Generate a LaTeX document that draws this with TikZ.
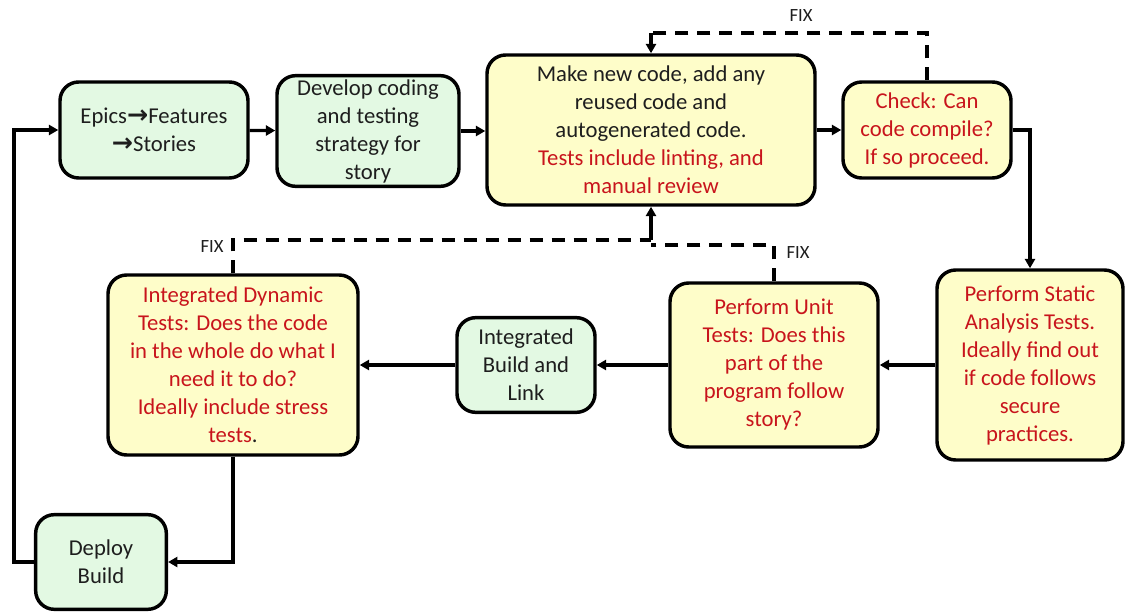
\documentclass[tikz,border=0pt]{standalone}
\usepackage{fontspec}
\setmainfont{Carlito}
\newfontfamily\arrowfont{DejaVu Sans}
\usetikzlibrary{arrows.meta}
\definecolor{boxgreen}{HTML}{E3F9E3}
\definecolor{boxyellow}{HTML}{FEFDC9}
\definecolor{alertred}{HTML}{C8141C}
\definecolor{inkgray}{HTML}{1E1E1E}
\newcommand{\rt}[1]{\textcolor{alertred}{#1}}
\newcommand{\ra}{{\arrowfont\bfseries\fontsize{19}{15}\selectfont →}}
\begin{document}
\begin{tikzpicture}[x=0.75pt,y=-0.75pt,
  box/.style={draw=black, line width=2.6pt, rounded corners=14pt, align=center,
    inner sep=0pt, font=\fontsize{17}{21}\selectfont, text=inkgray},
  gbox/.style={box, fill=boxgreen},
  ybox/.style={box, fill=boxyellow},
  flow/.style={line width=2.5pt, -{Triangle[length=7pt,width=7.5pt]}},
  fix/.style={line width=2.5pt, dash pattern=on 10pt off 6.5pt},
  fixlabel/.style={font=\fontsize{14}{15}\selectfont, text=inkgray, inner sep=0pt}]
\useasboundingbox (0,0) rectangle (1125,613);

% process boxes
\node[gbox, minimum width=141pt, minimum height=72pt] (epics) at (154,130)
  {Epics\ra Features\\\ra Stories};
\node[gbox, minimum width=136.5pt, minimum height=83pt] (dev) at (368,131)
  {Develop coding\\and testing\\strategy for\\story};
\node[ybox, minimum width=246pt, minimum height=112.5pt] (make) at (651,130)
  {Make new code, add any\\reused code and\\autogenerated code.\\\rt{Tests include linting, and}\\\rt{manual review}};
\node[ybox, minimum width=126pt, minimum height=72pt] (chk) at (927,130)
  {\rt{Check: Can}\\\rt{code compile?}\\\rt{If so proceed.}};
\node[ybox, minimum width=139.5pt, minimum height=142.5pt] (static) at (1030,365)
  {\rt{Perform Static}\\\rt{Analysis Tests.}\\\rt{Ideally find out}\\\rt{if code follows}\\\rt{secure}\\\rt{practices.}};
\node[ybox, minimum width=156pt, minimum height=123pt] (unit) at (774,365)
  {\rt{Perform Unit}\\\rt{Tests: Does this}\\\rt{part of the}\\\rt{program follow}\\\rt{story?}};
\node[gbox, minimum width=103.5pt, minimum height=71pt] (build) at (526,365)
  {Integrated\\Build and\\Link};
\node[ybox, minimum width=187.5pt, minimum height=135pt] (dyn) at (233,365)
  {\rt{Integrated Dynamic}\\\rt{Tests: Does the code}\\\rt{in the whole do what I}\\\rt{need it to do?}\\\rt{Ideally include stress}\\\rt{tests}.};
\node[gbox, minimum width=98pt, minimum height=71pt] (deploy) at (101,562)
  {Deploy\\Build};

% main flow
\draw[flow] (epics) -- (dev);
\draw[flow] (dev) -- (make.west |- dev);
\draw[flow] (make) -- (chk);
\draw[flow] (chk.east) -| (static.north);
\draw[flow] (static) -- (unit);
\draw[flow] (unit) -- (build);
\draw[flow] (build) -- (dyn);
\draw[flow] (dyn.south) |- (deploy.east);
\coordinate (loopL) at (14,562);
\draw[flow] (deploy.west) -- (loopL) |- (epics.west);

% fix loops
\coordinate (t1) at (927,33);
\coordinate (t2) at (651,33);
\draw[fix] (chk.north) -- (t1) -- (t2);
\draw[flow] (t2) -- (make.north);
\coordinate (b1) at (233,240);
\coordinate (b2) at (651,240);
\draw[fix] (dyn.north) -- (b1) -- (b2);
\draw[flow] (b2) -- (make.south);
\coordinate (b3) at (774,245);
\coordinate (b4) at (651,245);
\draw[fix] (unit.north) -- (b3) -- (b4);

% labels
\node[fixlabel] (fixtop) at (801,16) {FIX};
\node[fixlabel] (fixleft) at (212,247) {FIX};
\node[fixlabel] (fixright) at (798,253) {FIX};
\end{tikzpicture}
\end{document}
